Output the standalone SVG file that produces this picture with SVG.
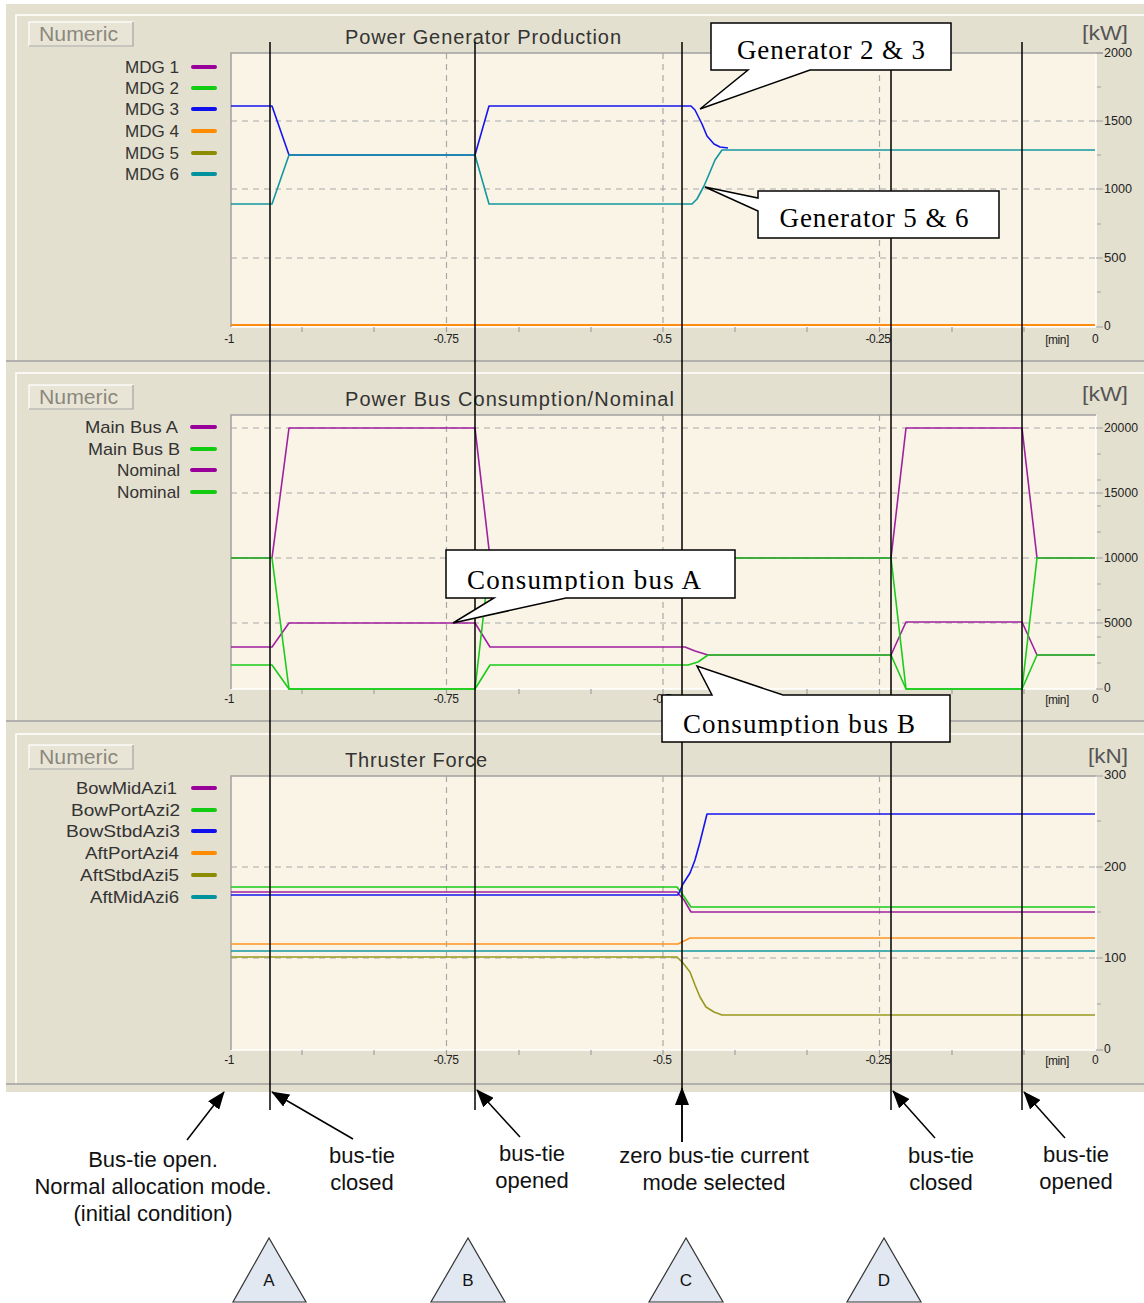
<svg xmlns="http://www.w3.org/2000/svg" width="1144" height="1303" viewBox="0 0 1144 1303">
<style>
.ui{font-family:"Liberation Sans",Arial,sans-serif;fill:#333}
.title{font-size:20px}
.leg{font-size:17px;text-anchor:end}
.num{font-size:20px;fill:#8a887c}
.unit{font-size:21px;fill:#555}
.ax{font-family:"Liberation Sans",Arial,sans-serif;font-size:12px;fill:#222;text-anchor:middle;letter-spacing:-0.5px}
.rax{font-family:"Liberation Sans",Arial,sans-serif;font-size:12px;fill:#222}
.plot{fill:#FAF4E7}
.pb{fill:none;stroke:#A0A0A0;stroke-width:1.5}
.pw{fill:none;stroke:#fff;stroke-width:1.5}
.grid{fill:none;stroke:#A8A8A8;stroke-width:1.2;stroke-dasharray:6 5}
.tick{fill:none;stroke:#A0A0A0;stroke-width:1.2}
.sw{stroke-width:4;stroke-linecap:round}
.d{fill:none;stroke-width:1.6;stroke-linejoin:round}
.pu{stroke:#A020A0}.gr{stroke:#19CC19}.bl{stroke:#1515F0}.or{stroke:#FF9420}.ol{stroke:#999920}.cy{stroke:#13979F}
.mk{stroke:#000;stroke-width:1.5;fill:none}
.arr{stroke:#000;stroke-width:1.5;fill:none;marker-end:url(#ah)}
.co{fill:#fff;stroke:#000;stroke-width:1.5}
.cot{font-family:"Liberation Serif","Times New Roman",serif;font-size:27px;fill:#000;text-anchor:middle}
.ann{font-family:"Liberation Sans",Arial,sans-serif;font-size:22px;fill:#111;text-anchor:middle}
.tri{fill:#E1E8F2;stroke:#333;stroke-width:1.2}
.trt{font-family:"Liberation Sans",Arial,sans-serif;font-size:17px;fill:#111;text-anchor:middle}
.btn{fill:#E9E5D6;stroke:#fff;stroke-width:1.2}
</style>
<defs>
<marker id="ah" viewBox="0 0 18 14" refX="17" refY="7" markerWidth="18" markerHeight="14" markerUnits="userSpaceOnUse" orient="auto">
<path d="M0,0 L18,7 L0,14 Z" fill="#000"/>
</marker>
<clipPath id="clipA"><rect x="446" y="550" width="289" height="41"/></clipPath>
<clipPath id="clipB"><rect x="662" y="695" width="288" height="41"/></clipPath>
</defs>

<rect x="0" y="0" width="1144" height="1303" fill="#fff"/>
<rect x="6" y="4" width="1138" height="1088" fill="#E4E0CF"/>

<!-- Panel 1 -->
<g id="panel-generator">
<path class="pw" d="M16,360 V15 H1144"/>
<path d="M6,361 H1144" stroke="#A0A0A0" stroke-width="1.5"/>
<rect class="btn" x="29" y="22" width="104" height="24"/>
<path d="M29,46 H133 V22" fill="none" stroke="#9a9a90" stroke-width="1.2"/>
<text class="ui num" x="39" y="41" textLength="79" lengthAdjust="spacingAndGlyphs">Numeric</text>
<text class="ui title" x="345" y="44" textLength="276" lengthAdjust="spacing">Power Generator Production</text>
<text class="ui unit" x="1082" y="40" textLength="46" lengthAdjust="spacingAndGlyphs">[kW]</text>
<rect class="plot" x="231" y="53" width="865" height="274"/>
<path class="pw" d="M231,327 H1096 V53"/>
<path class="pb" d="M231,327 V53 H1103"/>
<path class="grid" d="M231,121 H1096 M231,189 H1096 M231,258 H1096 M446.5,53 V327 M663,53 V327 M879.5,53 V327"/>
<path class="tick" d="M302,327 v5 M374,327 v5 M446.5,327 v5 M519,327 v5 M591,327 v5 M663,327 v5 M735,327 v5 M807,327 v5 M879.5,327 v5 M952,327 v5 M1024,327 v5 M1096,53 h7 M1096,121 h7 M1096,189 h7 M1096,258 h7 M1096,327 h7 M1097,87 h4 M1097,155 h4 M1097,224 h4 M1097,292 h4"/>
<text class="rax" x="1104" y="57" textLength="28" lengthAdjust="spacingAndGlyphs">2000</text>
<text class="rax" x="1104" y="125" textLength="28" lengthAdjust="spacingAndGlyphs">1500</text>
<text class="rax" x="1104" y="193" textLength="28" lengthAdjust="spacingAndGlyphs">1000</text>
<text class="rax" x="1104" y="262" textLength="22" lengthAdjust="spacingAndGlyphs">500</text>
<text class="rax" x="1104" y="330">0</text>
<text class="ax" x="229" y="343">-1</text>
<text class="ax" x="446" y="343">-0.75</text>
<text class="ax" x="662" y="343">-0.5</text>
<text class="ax" x="878" y="343">-0.25</text>
<text class="ax" x="1057" y="344" font-size="11">[min]</text>
<text class="ax" x="1095" y="343">0</text>
<text class="ui leg" x="179" y="73" textLength="54" lengthAdjust="spacingAndGlyphs">MDG 1</text>
<text class="ui leg" x="179" y="94" textLength="54" lengthAdjust="spacingAndGlyphs">MDG 2</text>
<text class="ui leg" x="179" y="115" textLength="54" lengthAdjust="spacingAndGlyphs">MDG 3</text>
<text class="ui leg" x="179" y="137" textLength="54" lengthAdjust="spacingAndGlyphs">MDG 4</text>
<text class="ui leg" x="179" y="159" textLength="54" lengthAdjust="spacingAndGlyphs">MDG 5</text>
<text class="ui leg" x="179" y="180" textLength="54" lengthAdjust="spacingAndGlyphs">MDG 6</text>
<line class="sw" x1="193" y1="67" x2="215" y2="67" stroke="#990099"/>
<line class="sw" x1="193" y1="88" x2="215" y2="88" stroke="#11CC11"/>
<line class="sw" x1="193" y1="109" x2="215" y2="109" stroke="#1010EE"/>
<line class="sw" x1="193" y1="131" x2="215" y2="131" stroke="#FF8C00"/>
<line class="sw" x1="193" y1="153" x2="215" y2="153" stroke="#8C8C00"/>
<line class="sw" x1="193" y1="174" x2="215" y2="174" stroke="#00939E"/>
<polyline class="d or" style="stroke-width:2.2;stroke:#FF8C10" points="231,325 1095,325"/>
<polyline class="d bl" points="231,106 272,106 289,155 475,155 489,106 691,106 695,110 702,124 707,136 714,144 720,147 728,148"/>
<polyline class="d cy" points="231,204 272,204 289,155 475,155 489,204 692,204 697,199 704,186 710,172 715,160 722,150 1095,150"/>
</g>

<!-- Panel 2 -->
<g id="panel-bus">
<path class="pw" d="M16,721 V373 H1144"/>
<path d="M6,721 H1144" stroke="#A0A0A0" stroke-width="1.5"/>
<rect class="btn" x="29" y="385" width="104" height="24"/>
<path d="M29,409 H133 V385" fill="none" stroke="#9a9a90" stroke-width="1.2"/>
<text class="ui num" x="39" y="404" textLength="79" lengthAdjust="spacingAndGlyphs">Numeric</text>
<text class="ui title" x="345" y="406" textLength="329" lengthAdjust="spacing">Power Bus Consumption/Nominal</text>
<text class="ui unit" x="1082" y="401" textLength="46" lengthAdjust="spacingAndGlyphs">[kW]</text>
<rect class="plot" x="231" y="415" width="865" height="274"/>
<path class="pw" d="M231,689 H1096 V415"/>
<path class="pb" d="M231,689 V415 H1096"/>
<path class="grid" d="M231,428 H1096 M231,493 H1096 M231,558 H1096 M231,623 H1096 M446.5,415 V689 M663,415 V689 M879.5,415 V689"/>
<path class="tick" d="M302,689 v5 M374,689 v5 M446.5,689 v5 M519,689 v5 M591,689 v5 M663,689 v5 M735,689 v5 M807,689 v5 M879.5,689 v5 M952,689 v5 M1024,689 v5 M1096,428 h7 M1096,493 h7 M1096,558 h7 M1096,623 h7 M1096,689 h7 M1097,454 h4 M1097,480 h4 M1097,506 h4 M1097,532 h4 M1097,584 h4 M1097,610 h4 M1097,637 h4 M1097,663 h4"/>
<text class="rax" x="1104" y="432" textLength="34" lengthAdjust="spacingAndGlyphs">20000</text>
<text class="rax" x="1104" y="497" textLength="34" lengthAdjust="spacingAndGlyphs">15000</text>
<text class="rax" x="1104" y="562" textLength="34" lengthAdjust="spacingAndGlyphs">10000</text>
<text class="rax" x="1104" y="627" textLength="28" lengthAdjust="spacingAndGlyphs">5000</text>
<text class="rax" x="1104" y="692">0</text>
<text class="ax" x="229" y="703">-1</text>
<text class="ax" x="446" y="703">-0.75</text>
<text class="ax" x="662" y="703">-0.5</text>
<text class="ax" x="1057" y="704" font-size="11">[min]</text>
<text class="ax" x="1095" y="703">0</text>
<text class="ui leg" x="178" y="433" textLength="93" lengthAdjust="spacingAndGlyphs">Main Bus A</text>
<text class="ui leg" x="180" y="455" textLength="92" lengthAdjust="spacingAndGlyphs">Main Bus B</text>
<text class="ui leg" x="180" y="476" textLength="63" lengthAdjust="spacingAndGlyphs">Nominal</text>
<text class="ui leg" x="180" y="498" textLength="63" lengthAdjust="spacingAndGlyphs">Nominal</text>
<line class="sw" x1="192" y1="427" x2="215" y2="427" stroke="#990099"/>
<line class="sw" x1="192" y1="449" x2="215" y2="449" stroke="#11CC11"/>
<line class="sw" x1="192" y1="470" x2="215" y2="470" stroke="#990099"/>
<line class="sw" x1="192" y1="492" x2="215" y2="492" stroke="#11CC11"/>
<polyline class="d pu" points="231,558 272,558 289,428 475,428 490,558 891,558 906,428 1022,428 1037,558 1095,558"/>
<polyline class="d pu" points="231,647 272,647 289,623 475,623 490,647 685,647 695,651 708,655 891,655 906,622 1022,622 1037,655 1095,655"/>
<polyline class="d gr" points="231,558 272,558 289,689 475,689 490,558 891,558 906,689 1022,689 1037,558 1095,558"/>
<polyline class="d gr" points="231,665 272,665 289,689 475,689 490,665 688,665 698,662 708,655 891,655 906,689 1022,689 1037,655 1095,655"/>
</g>

<!-- Panel 3 -->
<g id="panel-thruster">
<path class="pw" d="M16,1084 V734 H1144"/>
<path d="M6,1084 H1144" stroke="#A0A0A0" stroke-width="1.5"/>
<rect class="btn" x="29" y="745" width="104" height="24"/>
<path d="M29,769 H133 V745" fill="none" stroke="#9a9a90" stroke-width="1.2"/>
<text class="ui num" x="39" y="764" textLength="79" lengthAdjust="spacingAndGlyphs">Numeric</text>
<text class="ui title" x="345" y="767" textLength="142" lengthAdjust="spacing">Thruster Force</text>
<text class="ui unit" x="1088" y="763" textLength="40" lengthAdjust="spacingAndGlyphs">[kN]</text>
<rect class="plot" x="231" y="776" width="865" height="274"/>
<path class="pw" d="M231,1050 H1096 V776"/>
<path class="pb" d="M231,1050 V776 H1096"/>
<path class="grid" d="M231,867 H1096 M231,958 H1096 M446.5,776 V1050 M663,776 V1050 M879.5,776 V1050"/>
<path class="tick" d="M302,1050 v5 M374,1050 v5 M446.5,1050 v5 M519,1050 v5 M591,1050 v5 M663,1050 v5 M735,1050 v5 M807,1050 v5 M879.5,1050 v5 M952,1050 v5 M1024,1050 v5 M1096,776 h7 M1096,867 h7 M1096,958 h7 M1096,1050 h7 M1097,821 h4 M1097,912 h4 M1097,1004 h4"/>
<text class="rax" x="1104" y="779" textLength="22" lengthAdjust="spacingAndGlyphs">300</text>
<text class="rax" x="1104" y="871" textLength="22" lengthAdjust="spacingAndGlyphs">200</text>
<text class="rax" x="1104" y="962" textLength="22" lengthAdjust="spacingAndGlyphs">100</text>
<text class="rax" x="1104" y="1053">0</text>
<text class="ax" x="229" y="1064">-1</text>
<text class="ax" x="446" y="1064">-0.75</text>
<text class="ax" x="662" y="1064">-0.5</text>
<text class="ax" x="878" y="1064">-0.25</text>
<text class="ax" x="1057" y="1065" font-size="11">[min]</text>
<text class="ax" x="1095" y="1064">0</text>
<text class="ui leg" x="177" y="794" textLength="101" lengthAdjust="spacingAndGlyphs">BowMidAzi1</text>
<text class="ui leg" x="180" y="816" textLength="109" lengthAdjust="spacingAndGlyphs">BowPortAzi2</text>
<text class="ui leg" x="180" y="837" textLength="114" lengthAdjust="spacingAndGlyphs">BowStbdAzi3</text>
<text class="ui leg" x="179" y="859" textLength="94" lengthAdjust="spacingAndGlyphs">AftPortAzi4</text>
<text class="ui leg" x="179" y="881" textLength="99" lengthAdjust="spacingAndGlyphs">AftStbdAzi5</text>
<text class="ui leg" x="179" y="903" textLength="89" lengthAdjust="spacingAndGlyphs">AftMidAzi6</text>
<line class="sw" x1="193" y1="788" x2="215" y2="788" stroke="#990099"/>
<line class="sw" x1="193" y1="810" x2="215" y2="810" stroke="#11CC11"/>
<line class="sw" x1="193" y1="831" x2="215" y2="831" stroke="#1010EE"/>
<line class="sw" x1="193" y1="853" x2="215" y2="853" stroke="#FF8C00"/>
<line class="sw" x1="193" y1="875" x2="215" y2="875" stroke="#8C8C00"/>
<line class="sw" x1="193" y1="897" x2="215" y2="897" stroke="#00939E"/>
<polyline class="d cy" points="231,951 1095,951"/>
<polyline class="d ol" points="231,957 677,957 683,963 690,972 695,985 700,997 706,1007 714,1012 722,1015 1095,1015"/>
<polyline class="d or" points="231,944 678,944 684,941 690,938 1095,938"/>
<polyline class="d pu" points="231,892 677,892 684,900 691,912 1095,912"/>
<polyline class="d gr" points="231,887 677,887 683,895 691,907 1095,907"/>
<polyline class="d bl" points="231,895 678,895 683,884 690,873 695,860 700,842 707,814 1095,814"/>
</g>

<!-- Connectors: event markers and annotation arrows -->
<g id="connectors">
<line class="mk" x1="270" y1="42" x2="270" y2="1110"/>
<line class="mk" x1="475" y1="42" x2="475" y2="1110"/>
<line class="mk" x1="682" y1="42" x2="682" y2="1142"/>
<line class="mk" x1="891" y1="42" x2="891" y2="1110"/>
<line class="mk" x1="1022" y1="42" x2="1022" y2="1110"/>
<line class="arr" x1="187" y1="1140" x2="224" y2="1092"/>
<line class="arr" x1="353" y1="1139" x2="272" y2="1092"/>
<line class="arr" x1="520" y1="1137" x2="477" y2="1090"/>
<line class="arr" x1="682" y1="1142" x2="682" y2="1088"/>
<line class="arr" x1="935" y1="1138" x2="893" y2="1091"/>
<line class="arr" x1="1065" y1="1138" x2="1024" y2="1092"/>
</g>

<!-- Callouts -->
<g id="callout-gen23">
<path class="co" d="M711,23 H951 V70 H810 L700,109 L748,70 H711 Z"/>
<text class="cot" x="831" y="59" textLength="188" lengthAdjust="spacing">Generator 2 &amp; 3</text>
</g>
<g id="callout-gen56">
<path class="co" d="M758,191 H999 V238 H758 V211 L705,187 L758,198 Z"/>
<text class="cot" x="874" y="227" textLength="189" lengthAdjust="spacing">Generator 5 &amp; 6</text>
</g>
<g id="callout-busA">
<path class="co" d="M446,550 H735 V598 H566 L453,623 L494,598 H446 Z"/>
<text class="cot" x="584" y="589" textLength="234" lengthAdjust="spacing" clip-path="url(#clipA)">Consumption bus A</text>
</g>
<g id="callout-busB">
<path class="co" d="M662,695 H712 L697,666 L783,695 H950 V742 H662 Z"/>
<text class="cot" x="799" y="733" textLength="232" lengthAdjust="spacing" clip-path="url(#clipB)">Consumption bus B</text>
</g>

<!-- Annotations -->
<g id="note-initial">
<text class="ann" x="153" y="1167">Bus-tie open.</text>
<text class="ann" x="153" y="1194">Normal allocation mode.</text>
<text class="ann" x="153" y="1221">(initial condition)</text>
</g>
<g id="note-closed-1">
<text class="ann" x="362" y="1163">bus-tie</text>
<text class="ann" x="362" y="1190">closed</text>
</g>
<g id="note-opened-1">
<text class="ann" x="532" y="1161">bus-tie</text>
<text class="ann" x="532" y="1188">opened</text>
</g>
<g id="note-zero">
<text class="ann" x="714" y="1163">zero bus-tie current</text>
<text class="ann" x="714" y="1190">mode selected</text>
</g>
<g id="note-closed-2">
<text class="ann" x="941" y="1163">bus-tie</text>
<text class="ann" x="941" y="1190">closed</text>
</g>
<g id="note-opened-2">
<text class="ann" x="1076" y="1162">bus-tie</text>
<text class="ann" x="1076" y="1189">opened</text>
</g>

<!-- Phase triangles -->
<g id="tri-A"><polygon class="tri" points="269,1238 233,1302 306,1302"/><text class="trt" x="269" y="1286">A</text></g>
<g id="tri-B"><polygon class="tri" points="468,1238 431,1302 505,1302"/><text class="trt" x="468" y="1286">B</text></g>
<g id="tri-C"><polygon class="tri" points="686,1238 649,1302 723,1302"/><text class="trt" x="686" y="1286">C</text></g>
<g id="tri-D"><polygon class="tri" points="884,1238 847,1302 921,1302"/><text class="trt" x="884" y="1286">D</text></g>
</svg>
